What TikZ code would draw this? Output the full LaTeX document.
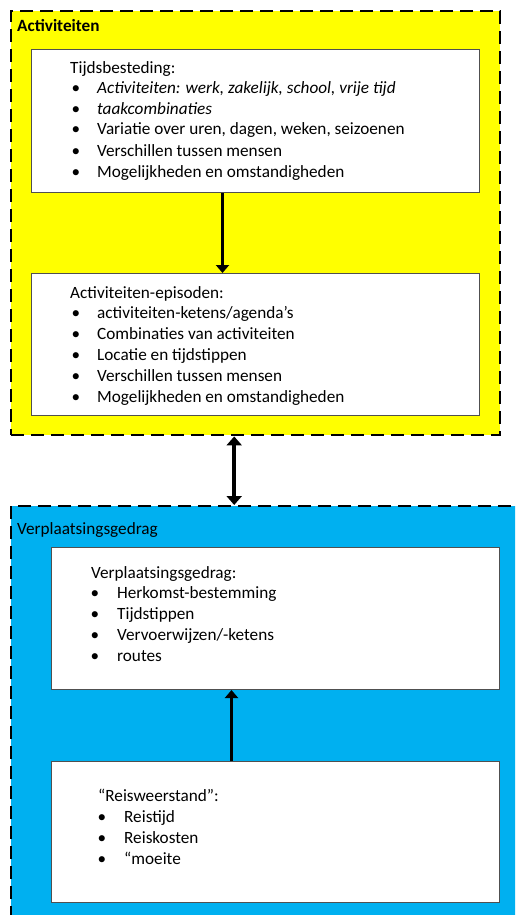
\documentclass[tikz,border=0pt]{standalone}
\usepackage{fontspec}
\setmainfont{Carlito}
\usetikzlibrary{arrows.meta,calc}
\definecolor{actyellow}{HTML}{FFFF00}
\definecolor{travblue}{HTML}{00B0F0}
\definecolor{boxline}{HTML}{505050}
\tikzset{
  outerbox/.style={draw=black, line width=2.4pt, dash pattern=on 13pt off 7pt, inner sep=0pt, anchor=north west},
  innerbox/.style={draw=boxline, line width=1pt, fill=white, inner sep=0pt, anchor=north west, minimum width=448pt},
  txt/.style={anchor=base west, inner sep=0pt, font=\fontsize{17.2}{21}\selectfont},
  bul/.style={anchor=base, inner sep=0pt, font=\fontsize{17.2}{21}\selectfont},
  arr/.style={line width=3pt, -{Triangle[width=13pt,length=8pt]}},
  darr/.style={line width=3.6pt, {Triangle[width=15pt,length=9pt]}-{Triangle[width=15pt,length=9pt]}},
}
\begin{document}
\begin{tikzpicture}[x=1pt,y=-1pt]
\useasboundingbox (0,0) rectangle (515,915);
\begin{scope}
\clip (0,0) rectangle (515,915);
% outer containers
\node[outerbox, fill=actyellow, minimum width=489pt, minimum height=424pt] (act) at (10,10) {};
\node[outerbox, fill=travblue, minimum width=540pt, minimum height=440pt] (trav) at (10,505) {};
\end{scope}
\node[txt, font=\fontsize{17.2}{21}\selectfont\bfseries] (actlabel) at (17,32) {Activiteiten};
\node[txt] (travlabel) at (17,534) {Verplaatsingsgedrag};

% inner boxes
\node[innerbox, minimum height=143pt] (b1) at (31,49) {};
\node[innerbox, minimum height=142pt] (b2) at (31,273) {};
\node[innerbox, minimum height=142pt] (b3) at (51,547) {};
\node[innerbox, minimum height=141pt] (b4) at (51,761) {};

% box 1
\node[txt] (t1h) at (70,74) {Tijdsbesteding:};
\foreach \y/\t [count=\i] in {94/{\itshape Activiteiten: werk, zakelijk, school, vrije tijd},
  114/{\itshape taakcombinaties},
  135/{Variatie over uren, dagen, weken, seizoenen},
  156/{Verschillen tussen mensen},
  177/{Mogelijkheden en omstandigheden}}{
  \node[bul] (t1b\i) at (76,\y) {\textbullet};
  \node[txt] (t1t\i) at (97,\y) {\t};
}

% box 2
\node[txt] (t2h) at (70,298) {Activiteiten-episoden:};
\foreach \y/\t [count=\i] in {318/{activiteiten-ketens/agenda’s},
  339/{Combinaties van activiteiten},
  360/{Locatie en tijdstippen},
  381/{Verschillen tussen mensen},
  402/{Mogelijkheden en omstandigheden}}{
  \node[bul] (t2b\i) at (76,\y) {\textbullet};
  \node[txt] (t2t\i) at (97,\y) {\t};
}

% box 3
\node[txt] (t3h) at (91,578) {Verplaatsingsgedrag:};
\foreach \y/\t [count=\i] in {598/{Herkomst-bestemming},
  619/{Tijdstippen},
  640/{Vervoerwijzen/-ketens},
  661/{routes}}{
  \node[bul] (t3b\i) at (95,\y) {\textbullet};
  \node[txt] (t3t\i) at (117,\y) {\t};
}

% box 4
\node[txt] (t4h) at (98,801) {“Reisweerstand”:};
\foreach \y/\t [count=\i] in {822/{Reistijd},
  843/{Reiskosten},
  864/{“moeite}}{
  \node[bul] (t4b\i) at (102,\y) {\textbullet};
  \node[txt] (t4t\i) at (124,\y) {\t};
}

% connectors
\draw[arr] ([xshift=-33pt]b1.south) -- ([xshift=-33pt]b2.north);
\draw[darr] ([xshift=-21.5pt]act.south) -- ([xshift=-21.5pt]act.south |- trav.north);
\draw[arr] ([xshift=-44pt]b4.north) -- ([xshift=-44pt]b3.south);
\end{tikzpicture}
\end{document}
